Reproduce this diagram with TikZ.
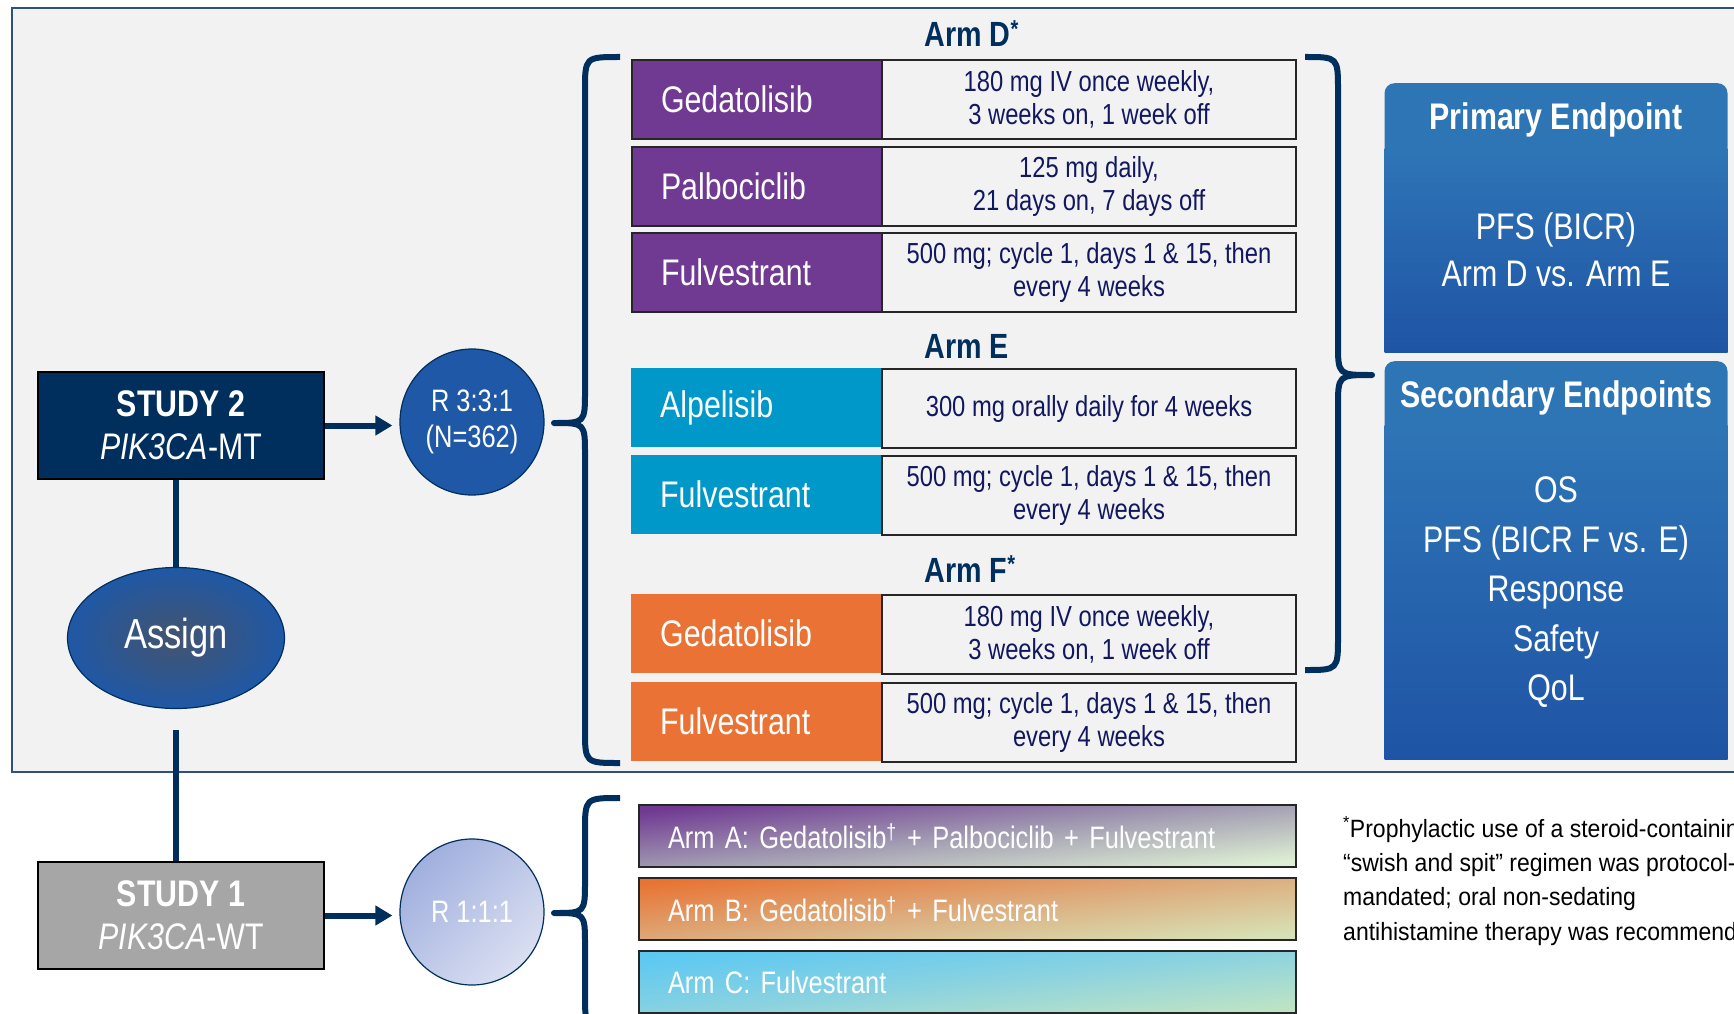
\documentclass[tikz,border=0pt]{standalone}
\usepackage{fontspec}
\setmainfont[FakeStretch=0.82]{Liberation Sans}
\newfontfamily\notefont[FakeStretch=0.92]{Liberation Sans}
\usepackage{tikz}
\usetikzlibrary{shapes.geometric}
\usetikzlibrary{arrows.meta}
\definecolor{trial-navy}{RGB}{0,47,94}
\definecolor{panel-fill}{HTML}{F2F2F2}
\definecolor{panel-edge}{RGB}{47,82,124}
\definecolor{arm-d}{RGB}{112,57,146}
\definecolor{arm-e}{RGB}{0,152,201}
\definecolor{arm-f}{RGB}{233,114,52}
\definecolor{dose-text}{RGB}{18,24,96}
\definecolor{rand-blue}{RGB}{31,88,166}
\definecolor{endpoint-top}{RGB}{46,117,182}
\definecolor{endpoint-bottom}{RGB}{31,84,165}
\colorlet{study1-gray}{black!35}
\definecolor{bar-a-mid}{RGB}{162,156,178}
\definecolor{bar-a-end}{RGB}{222,240,212}
\definecolor{bar-b-top}{RGB}{232,116,52}
\definecolor{bar-b-mid}{RGB}{221,172,125}
\definecolor{bar-b-end}{RGB}{214,226,182}
\definecolor{bar-c-top}{RGB}{92,200,242}
\definecolor{bar-c-mid}{RGB}{138,210,224}
\definecolor{bar-c-end}{RGB}{190,227,196}
\tikzset{
  study-box/.style={draw=black, line width=2pt, minimum width=286pt, minimum height=107pt, inner sep=0pt, align=center, text=white, font=\fontsize{37}{43}\selectfont},
  rand-node/.style={ellipse, draw=trial-navy, line width=1.2pt, minimum width=144pt, minimum height=146pt, inner sep=0pt, align=center, text=white, font=\fontsize{31}{36}\selectfont},
  link/.style={draw=trial-navy, line width=6pt},
  link-arrow/.style={link, -{Triangle[length=17pt,width=19pt]}, shorten >=7pt},
  brace-line/.style={draw=trial-navy, line width=6pt, line join=round},
  arm-label/.style={anchor=base west, text=trial-navy, font=\bfseries\fontsize{35}{40}\selectfont},
  drug-name/.style={anchor=north west, minimum height=79pt, inner xsep=29pt, inner ysep=0pt, text width=192pt, align=left, text=white, font=\fontsize{37}{43}\selectfont},
  drug-dose/.style={anchor=north west, draw=black!85, line width=2pt, fill=panel-fill, minimum width=414pt, minimum height=79pt, inner sep=0pt, align=center, text=dose-text, font=\fontsize{29}{33}\selectfont},
  arm-bar/.style={anchor=north west, draw=black!85, line width=2pt, minimum height=62pt, inner xsep=29pt, inner ysep=0pt, text width=599pt, align=left, text=white, font=\fontsize{31}{36}\selectfont},
  arm-a-shade/.style={top color=arm-d, bottom color=bar-a-end, middle color=bar-a-mid, shading angle=6},
  arm-b-shade/.style={top color=bar-b-top, bottom color=bar-b-end, middle color=bar-b-mid, shading angle=6},
  arm-c-shade/.style={top color=bar-c-top, bottom color=bar-c-end, middle color=bar-c-mid, shading angle=6},
  endpoint-head/.style={anchor=north, fill=endpoint-top, rounded corners=10pt, minimum width=343pt, minimum height=74pt, inner sep=0pt, text=white, font=\bfseries\fontsize{37}{43}\selectfont},
  endpoint-body/.style={anchor=north, top color=endpoint-top, bottom color=endpoint-bottom, minimum width=343pt, inner sep=0pt, align=center, text=white},
}
\newcommand{\drugrow}[6][]{%
  % drug on the left, dose on the right
  \node[drug-name, fill=#3, #1] (#2-name) at (631,#4) {#5};
  \node[drug-dose] (#2-dose) at (881,#4) {#6};
}
\newcommand{\armbrace}[6]{%
  % ends, spine, tip; then top, tip and bottom heights
  \draw[brace-line] (#1,#4) .. controls (#2,#4) .. (#2,#4+34) -- (#2,#5-32)
    .. controls (#2,#5) .. (#3,#5) .. controls (#2,#5) .. (#2,#5+32)
    -- (#2,#6-34) .. controls (#2,#6) .. (#1,#6);
}
\begin{document}
\begin{tikzpicture}[x=1pt, y=-1pt]
\useasboundingbox (0,0) rectangle (1734,1014);
\clip (0,0) rectangle (1734,1014);
\fill[white] (0,0) rectangle (1734,1014);
% study 2 panel
\filldraw[fill=panel-fill, draw=panel-edge, line width=1.5pt] (12,8) rectangle (1760,772);
% studies and randomisation
\node[study-box, fill=trial-navy] (study2) at (181,425.5) {\textbf{STUDY 2}\\\textit{PIK3CA}-MT};
\node[study-box, fill=study1-gray] (study1) at (181,915.5) {\textbf{STUDY 1}\\\textit{PIK3CA}-WT};
\node[ellipse, draw=trial-navy, line width=1.2pt, minimum width=217pt, minimum height=141pt, inner color={rgb,255:red,68;green,84;blue,110}, outer color=rand-blue, text=white, font=\fontsize{42}{48}\selectfont] (assign) at (176,638) {Assign};
\node[rand-node, fill=rand-blue] (rand2) at (472,422) {R 3:3:1\\(N=362)};
\node[rand-node, top color={rgb,255:red,160;green,175;blue,222}, bottom color={rgb,255:red,218;green,223;blue,241}, shading angle=45] (rand1) at (472,912) {R 1:1:1};
\draw[link] (study2.south -| assign) -- (assign.north);
\draw[link, shorten <=21pt] (assign.south) -- (assign.south |- study1.north);
\draw[link-arrow] (study2.east) -- (study2.east -| rand2.west);
\draw[link-arrow] (study1.east) -- (study1.east -| rand1.west);
% arm D
\node[arm-label] (armD) at (921,47) {Arm D\textsuperscript{*}};
\drugrow[draw=black!85, line width=2pt]{gedD}{arm-d}{59}{Gedatolisib}{180 mg IV once weekly,\\3 weeks on, 1 week off}
\drugrow[draw=black!85, line width=2pt]{palD}{arm-d}{146}{Palbociclib}{125 mg daily,\\21 days on, 7 days off}
\drugrow[draw=black!85, line width=2pt]{fulD}{arm-d}{232}{Fulvestrant}{500 mg; cycle 1, days 1 \& 15, then\\every 4 weeks}
% arm E
\node[arm-label] (armE) at (921,358) {Arm E};
\drugrow{alpE}{arm-e}{368}{Alpelisib}{300 mg orally daily for 4 weeks}
\drugrow{fulE}{arm-e}{455}{Fulvestrant}{500 mg; cycle 1, days 1 \& 15, then\\every 4 weeks}
% arm F
\node[arm-label] (armF) at (921,582) {Arm F\textsuperscript{*}};
\drugrow{gedF}{arm-f}{594}{Gedatolisib}{180 mg IV once weekly,\\3 weeks on, 1 week off}
\drugrow{fulF}{arm-f}{682}{Fulvestrant}{500 mg; cycle 1, days 1 \& 15, then\\every 4 weeks}
% study 1 arms
\node[arm-bar, arm-a-shade] (armA) at (638,804) {Arm A: Gedatolisib\textsuperscript{\dag} + Palbociclib + Fulvestrant};
\node[arm-bar, arm-b-shade] (armB) at (638,877) {Arm B: Gedatolisib\textsuperscript{\dag} + Fulvestrant};
\node[arm-bar, arm-c-shade] (armC) at (638,950) {Arm C: Fulvestrant};
% endpoints
\node[endpoint-head] (primary-head) at (1556,83) {Primary Endpoint};
\node[endpoint-body, minimum height=204pt, font=\fontsize{37}{47}\selectfont] (primary) at (1556,148) {PFS (BICR)\\Arm D vs. Arm E};
\node[endpoint-head] (secondary-head) at (1556,361) {Secondary Endpoints};
\node[endpoint-body, minimum height=334pt, font=\fontsize{37}{49.5}\selectfont] (secondary) at (1556,425) {OS\\PFS (BICR F vs. E)\\Response\\Safety\\QoL};
% braces
\armbrace{620}{585}{554}{57}{423}{763}
\armbrace{1305}{1338}{1372}{57}{375}{670}
\armbrace{620}{585}{554}{798}{913}{1028}
% footnote
\node[anchor=north west, align=left, inner sep=0pt, font=\notefont\fontsize{25}{34.3}\selectfont] (note) at (1343,816) {\textsuperscript{*}Prophylactic use of a steroid-containing\\“swish and spit” regimen was protocol-\\mandated; oral non-sedating\\antihistamine therapy was recommended};
\end{tikzpicture}
\end{document}
